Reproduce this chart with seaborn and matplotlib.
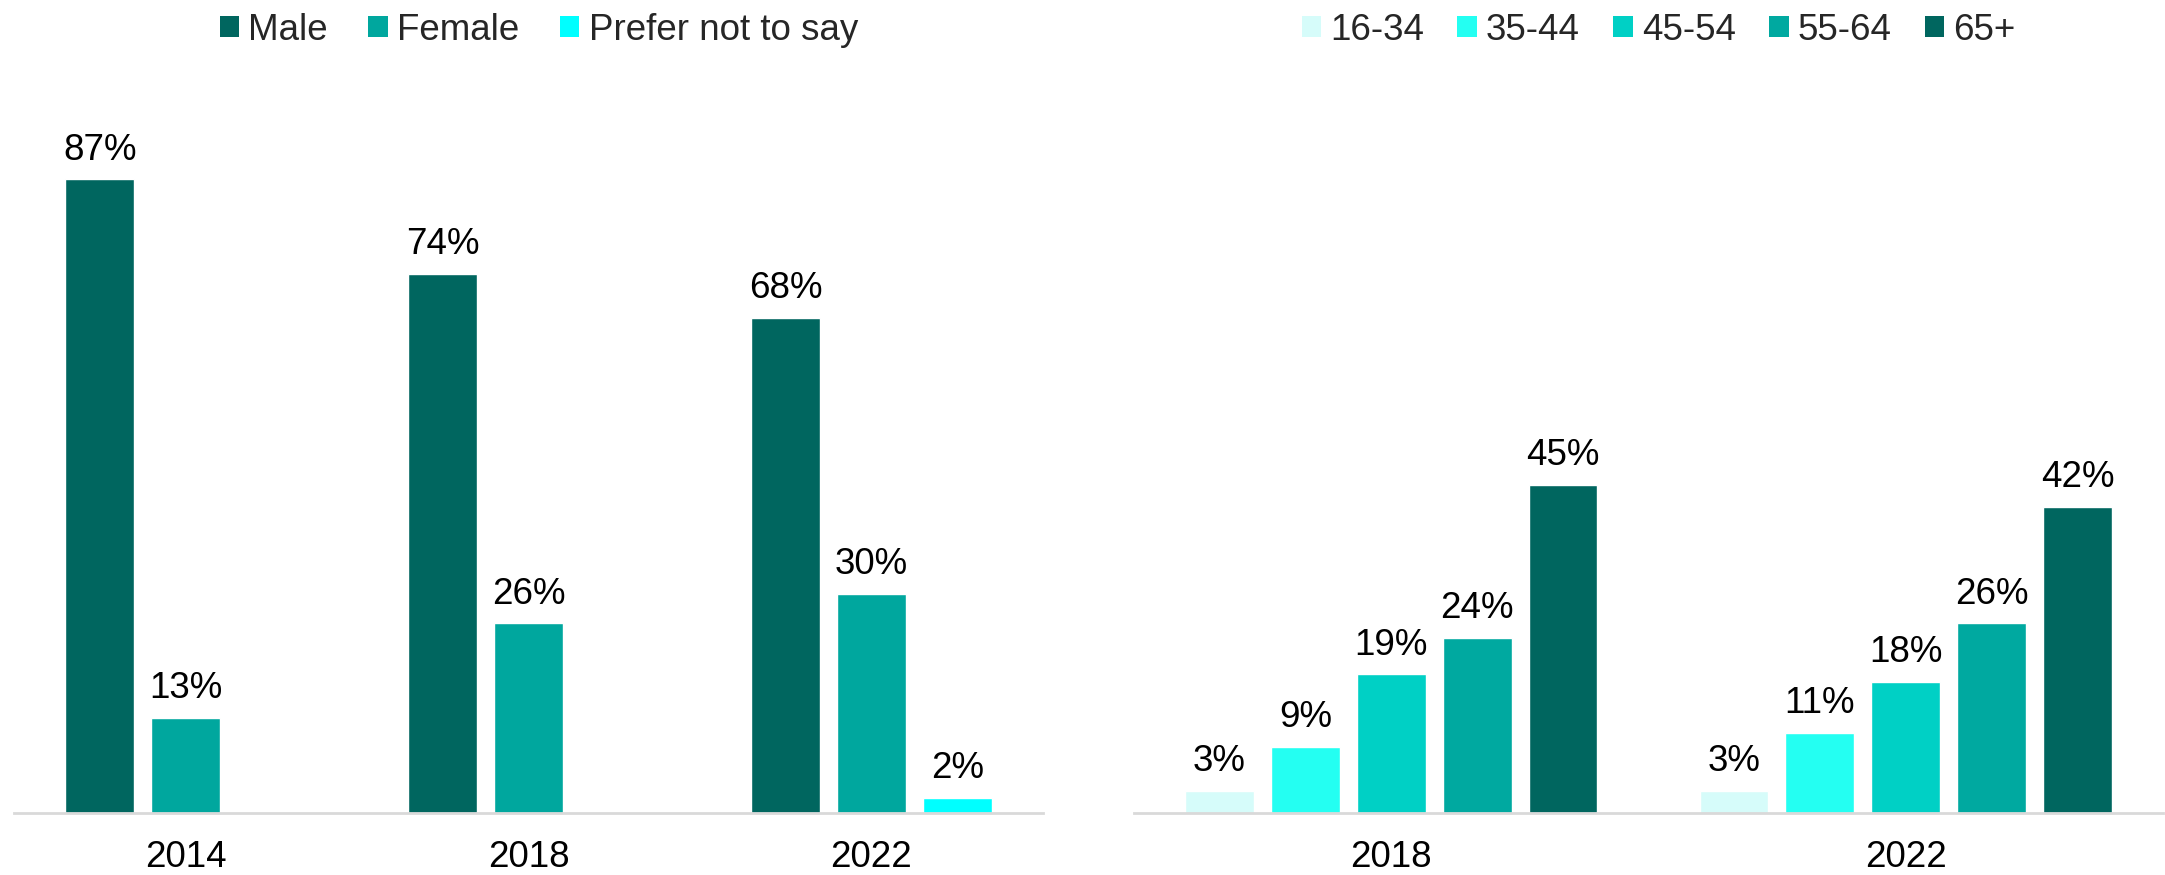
import matplotlib
matplotlib.use("Agg")
import matplotlib.pyplot as plt
import seaborn as sns
import pandas as pd
from matplotlib.patches import Patch

# Gender split of respondents by survey year
gender_years = ["2014", "2018", "2022"]
gender_levels = ["Male", "Female", "Prefer not to say"]
male = [87, 74, 68]
female = [13, 26, 30]
prefer_not = [None, None, 2]

# Age split of respondents by survey year
age_years = ["2018", "2022"]
age_levels = ["16-34", "35-44", "45-54", "55-64", "65+"]
age_16_34 = [3, 3]
age_35_44 = [9, 11]
age_45_54 = [19, 18]
age_55_64 = [24, 26]
age_65_plus = [45, 42]

gender_colors = ["#00665F", "#00A79E", "#00FFFF"]
age_colors = ["#D6FCFA", "#24FFF2", "#00D0C5", "#00A9A0", "#00665F"]

sns.set_theme(style="white")
plt.rcParams["font.family"] = ["Liberation Sans", "DejaVu Sans"]

FS = 26.5

def long_frame(years, levels, series):
    rows = []
    for lvl, vals in zip(levels, series):
        for yr, v in zip(years, vals):
            if v is not None:
                rows.append({"year": yr, "group": lvl, "value": v})
    return pd.DataFrame(rows)

gender_df = long_frame(gender_years, gender_levels, [male, female, prefer_not])
age_df = long_frame(age_years, age_levels,
                    [age_16_34, age_35_44, age_45_54, age_55_64, age_65_plus])

W, H = 2165, 875
fig = plt.figure(figsize=(W / 100, H / 100), dpi=100)
base = (H - 812.7) / H
height = 728 / H
ax1 = fig.add_axes([14 / W, base, 1029 / W, height])
ax2 = fig.add_axes([1134 / W, base, 1029 / W, height])

LEG_Y = (H - 30) / H


def draw(ax, df, years, levels, colors, width, x0, colspace):
    sns.barplot(data=df, x="year", y="value", hue="group", order=years,
                hue_order=levels, palette=colors, width=width, gap=0.2,
                saturation=1, legend=False, ax=ax, errorbar=None)
    for cont in ax.containers:
        ax.bar_label(cont, fmt="{:.0f}%", padding=8.5, fontsize=FS, color="black")
    ax.set_ylim(0, 100)
    ax.set_xlim(-0.5, len(years) - 0.5)
    ax.set_xlabel("")
    ax.set_ylabel("")
    ax.set_yticks([])
    for side in ["top", "left", "right"]:
        ax.spines[side].set_visible(False)
    ax.spines["bottom"].set_color("#D9D9D9")
    ax.spines["bottom"].set_linewidth(2)
    ax.tick_params(axis="x", length=0, pad=20, labelsize=FS, labelcolor="black")
    handles = [Patch(facecolor=c, edgecolor="none", label=l)
               for c, l in zip(colors, levels)]
    ax.legend(handles=handles, loc="center",
              bbox_to_anchor=((x0 + 0.51 * 1029) / W, LEG_Y),
              bbox_transform=fig.transFigure, ncol=len(levels), frameon=False,
              fontsize=FS, handlelength=0.53, handleheight=0.53,
              handletextpad=0.25, columnspacing=colspace, borderpad=0,
              borderaxespad=0)


draw(ax1, gender_df, gender_years, gender_levels, gender_colors, 0.75, 14, 1.1)
draw(ax2, age_df, age_years, age_levels, age_colors, 0.835, 1134, 0.9)

fig.savefig("out.png", dpi=100, facecolor="white")
